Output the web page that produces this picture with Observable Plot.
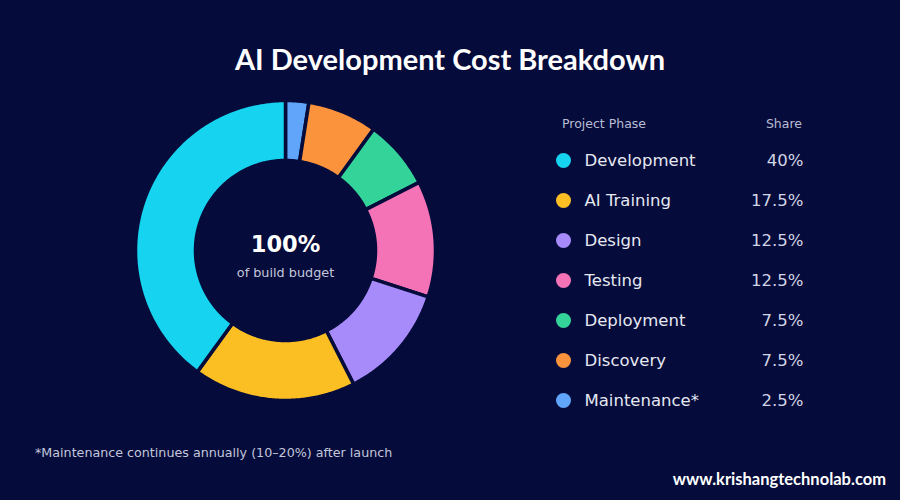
<!DOCTYPE html>
<html>
<head>
<meta charset="utf-8">
<script src="https://cdn.jsdelivr.net/npm/d3@7"></script>
<script src="https://cdn.jsdelivr.net/npm/@observablehq/plot@0.6"></script>
<style>
  html, body { margin: 0; padding: 0; background: #050b3a; }
  #page { position: relative; width: 900px; height: 500px; background: #050b3a; overflow: hidden; font-family: "DejaVu Sans", sans-serif; }
  #title { position: absolute; left: 0; width: 900px; top: 41px; text-align: center; color: #ffffff; font-family: Lato, "Open Sans", sans-serif; font-weight: 700; font-size: 29px; }
  #donut { position: absolute; left: 135px; top: 100px; }
  #legend { position: absolute; left: 555px; top: 140px; }
  .hdr { position: absolute; top: 116px; font-size: 12.5px; color: #b9bdd4; }
  #note { position: absolute; left: 35px; top: 445px; font-size: 12.7px; color: #c3c7dc; }
  #site { position: absolute; right: 14px; top: 469px; font-family: Lato, sans-serif; font-weight: 700; font-size: 16.5px; color: #ffffff; }
</style>
</head>
<body>
<div id="page">
  <div id="title">AI Development Cost Breakdown</div>
  <div id="donut"></div>
  <div class="hdr" style="left:562px">Project Phase</div>
  <div class="hdr" style="right:98px">Share</div>
  <div id="legend"></div>
  <div id="note">*Maintenance continues annually (10–20%) after launch</div>
  <div id="site">www.krishangtechnolab.com</div>
</div>
<script>
const phases = ["Development", "AI Training", "Design", "Testing", "Deployment", "Discovery", "Maintenance*"];
const shares = [40, 17.5, 12.5, 12.5, 7.5, 7.5, 2.5];
const shareLabels = ["40%", "17.5%", "12.5%", "12.5%", "7.5%", "7.5%", "2.5%"];
const colors = ["#16d3ef", "#fbbf24", "#a78bfa", "#f472b6", "#34d399", "#fb923c", "#60a5fa"];
const centerValue = "100%";
const centerLabel = "of build budget";

const bg = "#050b3a";
const rows = phases.map((p, i) => ({phase: p, share: shares[i], label: shareLabels[i]}));

// Clockwise from top: reverse legend order
const pie = d3.pie().value(d => d.share).sort(null);
const arcs = pie(rows.slice().reverse());
const rOuter = 1, rInner = 0.6;
const pts = [];
for (const a of arcs) {
  const n = Math.max(4, Math.ceil((a.endAngle - a.startAngle) / 0.01));
  const ring = [];
  for (let k = 0; k <= n; k++) {
    const t = a.startAngle + (a.endAngle - a.startAngle) * k / n;
    ring.push({phase: a.data.phase, x: rOuter * Math.sin(t), y: rOuter * Math.cos(t)});
  }
  for (let k = n; k >= 0; k--) {
    const t = a.startAngle + (a.endAngle - a.startAngle) * k / n;
    ring.push({phase: a.data.phase, x: rInner * Math.sin(t), y: rInner * Math.cos(t)});
  }
  pts.push(...ring);
}

const color = {domain: phases, range: colors};

const donut = Plot.plot({
  width: 300, height: 300,
  margin: 0,
  x: {domain: [-1, 1], axis: null},
  y: {domain: [-1, 1], axis: null},
  color,
  style: {background: "transparent", overflow: "visible"},
  marks: [
    Plot.line(pts, {x: "x", y: "y", z: "phase", fill: "phase", stroke: bg, strokeWidth: 3.5, curve: "linear-closed"}),
    Plot.text([centerValue], {x: () => 0, y: () => 0, text: d => d, dy: -6, fontSize: 22.5, fontWeight: "bold", fill: "#ffffff", fontFamily: "DejaVu Sans"}),
    Plot.text([centerLabel], {x: () => 0, y: () => 0, text: d => d, dy: 22, fontSize: 12.8, fill: "#c3c7dc", fontFamily: "DejaVu Sans"})
  ]
});
document.getElementById("donut").appendChild(donut);

const legend = Plot.plot({
  width: 250, height: 280,
  marginTop: 0, marginBottom: 0, marginLeft: 0, marginRight: 0,
  y: {type: "point", domain: phases, range: [19.5, 260.5], padding: 0, axis: null},
  color,
  style: {background: "transparent", overflow: "visible"},
  marks: [
    Plot.dot(rows, {y: "phase", fill: "phase", r: 7.5, frameAnchor: "left", dx: 8}),
    Plot.text(rows, {y: "phase", text: "phase", frameAnchor: "left", textAnchor: "start", dx: 29, fontSize: 16.5, fill: "#e6e8f2", fontFamily: "DejaVu Sans"}),
    Plot.text(rows, {y: "phase", text: "label", frameAnchor: "right", textAnchor: "end", dx: -2, fontSize: 16.5, fill: "#d2d5e6", fontFamily: "DejaVu Sans"})
  ]
});
document.getElementById("legend").appendChild(legend);
</script>
</body>
</html>
